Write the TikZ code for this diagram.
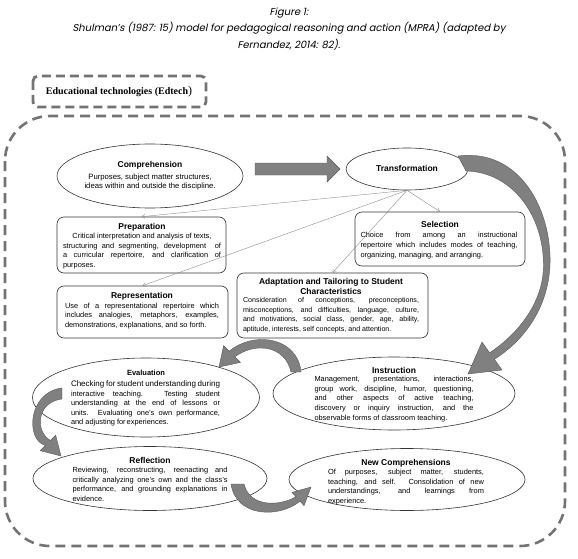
\documentclass[tikz,border=0pt]{standalone}
\usepackage{fontspec}
\setmainfont{Liberation Sans}
\newfontfamily\capfont{Poppins}[FakeSlant=0.2]
\newfontfamily\edfont{Liberation Serif}
\usetikzlibrary{shapes.geometric,arrows.meta,positioning}

\tikzset{
  oval/.style={draw=black!80, line width=0.6pt, ellipse, inner sep=0pt},
  card/.style={draw=black!80, line width=0.6pt, rounded corners=7pt, inner sep=0pt},
  body/.style={align=justify, inner sep=0pt, font=\fontsize{7.4}{9.6}\selectfont},
  head/.style={inner sep=0pt, align=center, font=\bfseries\fontsize{8.5}{10}\selectfont},
  thin/.style={draw=black!45, line width=0.4pt, -{Straight Barb[length=3pt,width=4pt]}},
  fat/.style={fill=black!50, draw=black!65, line width=0.4pt},
  frame/.style={draw=black!55, line width=2.6pt, dash pattern=on 10pt off 6pt}
}

\begin{document}
\begin{tikzpicture}[x=1pt, y=-1pt]
    \useasboundingbox (0,0) rectangle (578,559);

    % caption
    \node[align=center, inner sep=0pt, font=\capfont\fontsize{10}{16.5}\selectfont] (caption) at (289,29)
        {Figure 1:\\ Shulman’s (1987: 15) model for pedagogical reasoning and action (MPRA) (adapted by\\ Fernandez, 2014: 82).};

    % Edtech label
    \draw[draw=black!55, line width=2.8pt, dash pattern=on 9pt off 5pt, rounded corners=5pt] (33,76) rectangle (206,107);
    \node[inner sep=0pt, font=\edfont\bfseries\fontsize{10}{12}\selectfont] (edtech) at (119,92)
        {Educational technologies (Edtech{\mdseries\fontsize{12}{12}\selectfont )}};

    % outer frame
    \draw[frame, rounded corners=45pt] (5,116) rectangle (565,546);

    % Comprehension
    \node[oval, minimum width=186pt, minimum height=64pt] (comp) at (150,176) {};
    \node[head] (comp-t) at (150,165) {Comprehension};
    \node[body, align=center, font=\fontsize{7.7}{9.8}\selectfont] (comp-b) at (150,182) {Purposes, subject matter structures,\\ ideas within and outside the discipline.};

    % Transformation
    \node[oval, minimum width=122pt, minimum height=42pt] (trans) at (407,169) {};
    \node[head] (trans-t) at (407,168) {Transformation};

    % Comprehension -> Transformation
    \draw[fat] (255,163) -- (327,163) -- (327,156) -- (340,169) -- (327,182) -- (327,175) -- (255,175) -- cycle;

    % Preparation
    \node[card, minimum width=169pt, minimum height=56pt] (prep) at (141.5,245) {};
    \node[head] (prep-t) at (142,227) {Preparation};
    \node[body, text width=158pt] (prep-b) at (142,251) {\hspace*{\fill}Critical interpretation and analysis of texts,\hspace*{\fill}\linebreak
        structuring and segmenting, development\ \ of\linebreak
        a curricular repertoire, and clarification of\linebreak
        purposes.};

    % Representation
    \node[card, minimum width=171pt, minimum height=52pt] (rep) at (142.5,312) {};
    \node[head] (rep-t) at (142,296) {Representation};
    \node[body, text width=154pt] (rep-b) at (142,316) {Use of a representational repertoire which\linebreak
        includes analogies, metaphors, examples,\linebreak
        demonstrations, explanations, and so forth.};

    % Selection
    \node[card, minimum width=170pt, minimum height=54pt] (sel) at (440,239) {};
    \node[head] (sel-t) at (440,224) {Selection};
    \node[body, text width=157pt] (sel-b) at (439,245.5) {Choice from among an instructional\linebreak
        repertoire which includes modes of teaching,\linebreak
        organizing, managing, and arranging.};

    % Adaptation
    \node[card, minimum width=191pt, minimum height=65pt] (adapt) at (332.5,305.5) {};
    \node[head] (adapt-t) at (331,286) {Adaptation and Tailoring to Student\\ Characteristics};
    \node[body, text width=176pt, font=\fontsize{7.1}{9.5}\selectfont] (adapt-b) at (331,315) {Consideration of conceptions, preconceptions,\linebreak
        misconceptions, and difficulties, language, culture,\linebreak
        and motivations, social class, gender, age, ability,\linebreak
        aptitude, interests, self concepts, and attention.};

    % Transformation -> its steps
    \draw[thin] (trans.south) -- (prep.north);
    \draw[thin] (trans.south) -- (rep.north);
    \draw[thin] (trans.south) -- (adapt.north);
    \draw[thin] (trans.south) -- (sel.north);

    % Instruction
    \node[oval, minimum width=242pt, minimum height=73pt] (inst) at (394,393.5) {};
    \node[head] (inst-t) at (394,370) {Instruction};
    \node[body, text width=159pt] (inst-b) at (394,399) {Management, presentations, interactions,\linebreak
        group work, discipline, humor, questioning,\linebreak
        and other aspects of active teaching,\linebreak
        discovery or inquiry instruction, and the\linebreak
        observable forms of classroom teaching.};

    % Evaluation
    \node[oval, minimum width=227pt, minimum height=79pt] (eval) at (146,397.5) {};
    \node[head, font=\bfseries\fontsize{7.5}{9}\selectfont] (eval-t) at (146,373) {Evaluation};
    \node[body, text width=149pt] (eval-b) at (145.5,403.5) {{\fontsize{8}{9.6}\selectfont Checking for student understanding during}\linebreak
        interactive teaching. Testing student\linebreak
        understanding at the end of lessons or\linebreak
        units. Evaluating one's own performance,\linebreak
        and adjusting for\hspace{1pt}experiences.};

    % Reflection
    \node[oval, minimum width=234pt, minimum height=64pt] (refl) at (150,478.5) {};
    \node[head] (refl-t) at (150,460) {Reflection};
    \node[body, text width=155pt] (refl-b) at (150,484.5) {Reviewing, reconstructing, reenacting and\linebreak
        critically analyzing one's own and the class's\linebreak
        performance, and grounding explanations in\linebreak
        evidence.};

    % New Comprehensions
    \node[oval, minimum width=236pt, minimum height=62pt] (newc) at (407,479.5) {};
    \node[head] (newc-t) at (406,463) {New Comprehensions};
    \node[body, text width=156pt] (newc-b) at (406,487) {Of purposes, subject matter, students,\linebreak
        teaching, and self. Consolidation of new\linebreak
        understandings, and learnings from\linebreak
        experience.};

    % Transformation -> Instruction
    \draw[fat] (458,156) .. controls (520,148) and (552,210) .. (550,265) .. controls (548,310) and (522,342) .. (494.4,359.2)
        -- (502,370) -- (468,374) -- (482,342) -- (489.6,352.8)
        .. controls (515,336) and (543.5,305) .. (543.5,265) .. controls (543.5,215) and (512,172) .. (466,171) -- cycle;

    % Instruction -> Evaluation
    \draw[fat] (301,372) .. controls (298,338) and (255,330) .. (229.2,351.2) -- (223.6,345.6) -- (219,367)
        -- (240.4,362.4) -- (234.8,356.8) .. controls (255,342) and (285,345) .. (291,372) -- cycle;

    % Evaluation -> Reflection
    \draw[fat] (62,388) .. controls (28,392) and (25,440) .. (45.5,445.5) -- (40.3,450.7) -- (61,456)
        -- (55.7,435.3) -- (50.5,440.5) .. controls (35,432) and (36,402) .. (62,399) -- cycle;

    % Reflection -> New Comprehensions
    \draw[fat] (231,484) .. controls (236,518) and (280,518) .. (300,501.2) -- (304,505.6) -- (311,487)
        -- (292,492.4) -- (296,496.8) .. controls (280,506) and (250,508) .. (244,484) -- cycle;
\end{tikzpicture}
\end{document}
